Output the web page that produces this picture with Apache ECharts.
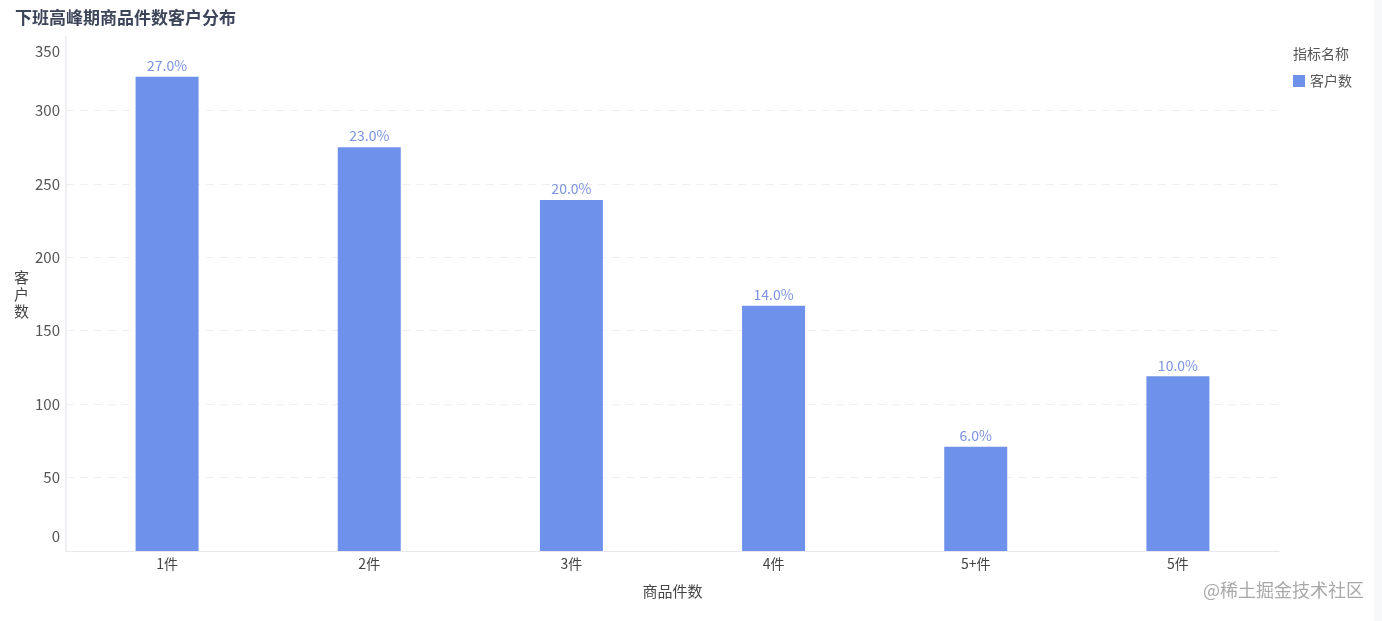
<!DOCTYPE html>
<html>
<head>
<meta charset="utf-8">
<script src="https://cdn.jsdelivr.net/npm/echarts@6/dist/echarts.min.js"></script>
<style>
html,body{margin:0;padding:0;background:#fff;}
#chart{width:1382px;height:621px;}
#strip{position:absolute;left:1374px;top:0;width:8px;height:621px;background:#f7f8fa;}
</style>
</head>
<body>
<div id="chart"></div>
<div id="strip"></div>
<script>
const categories = ['1件', '2件', '3件', '4件', '5+件', '5件'];
const customerCounts = [323, 275, 239, 167, 71, 119];
const percentLabels = ['27.0%', '23.0%', '20.0%', '14.0%', '6.0%', '10.0%'];
const yTicks = { min: 0, max: 350, interval: 50 };

const FONT = '"Noto Sans CJK SC", "Noto Sans", sans-serif';
const chart = echarts.init(document.getElementById('chart'));
chart.setOption({
  animation: false,
  textStyle: { fontFamily: FONT },
  title: {
    text: '下班高峰期商品件数客户分布',
    left: 10, top: 4,
    textStyle: { fontSize: 17, fontWeight: 'bold', color: '#3c4559', fontFamily: FONT }
  },
  legend: {
    left: 1288, top: 69,
    orient: 'vertical',
    icon: 'rect', itemWidth: 12, itemHeight: 12, itemGap: 6,
    textStyle: { fontSize: 14, color: '#555', fontFamily: FONT },
    data: ['客户数']
  },
  graphic: [
    { type: 'text', left: 1293, top: 47, style: { text: '指标名称', fontSize: 14, fill: '#555', fontFamily: FONT } },
    { type: 'text', right: 18, top: 581, style: { text: '@稀土掘金技术社区', fontSize: 18, fill: '#a8a8a8', fontFamily: FONT } }
  ],
  grid: { left: 66, right: 103, top: 37, bottom: 70, containLabel: false },
  xAxis: {
    type: 'category',
    data: categories,
    name: '商品件数',
    nameLocation: 'middle',
    nameGap: 33,
    nameTextStyle: { fontSize: 15, color: '#444', fontFamily: FONT },
    axisLine: { lineStyle: { color: '#e8e8ec' } },
    axisTick: { show: false },
    axisLabel: { fontSize: 14, color: '#444', margin: 6, fontFamily: FONT }
  },
  yAxis: {
    type: 'value',
    min: yTicks.min, max: yTicks.max, interval: yTicks.interval,
    name: '客\n户\n数',
    nameLocation: 'middle',
    nameRotate: 0,
    nameGap: 37,
    nameTextStyle: { fontSize: 15, color: '#444', lineHeight: 17, fontFamily: FONT },
    axisLine: { show: true, lineStyle: { color: '#eeeff2', width: 2 } },
    axisTick: { show: false },
    axisLabel: {
      fontSize: 15, color: '#555', margin: 6, fontFamily: FONT,
      padding: [7, 0, 7, 0],
      verticalAlignMinLabel: 'bottom', verticalAlignMaxLabel: 'top'
    },
    splitLine: { show: true, showMaxLine: false, lineStyle: { color: '#eeeff2', type: [8, 6] } }
  },
  series: [{
    name: '客户数',
    type: 'bar',
    data: customerCounts,
    barWidth: 63,
    itemStyle: { color: '#6e91eb' },
    label: {
      show: true, position: 'top', distance: 4,
      fontSize: 14, color: '#7b93e0', fontFamily: FONT,
      formatter: p => percentLabels[p.dataIndex]
    }
  }]
});
</script>
</body>
</html>
